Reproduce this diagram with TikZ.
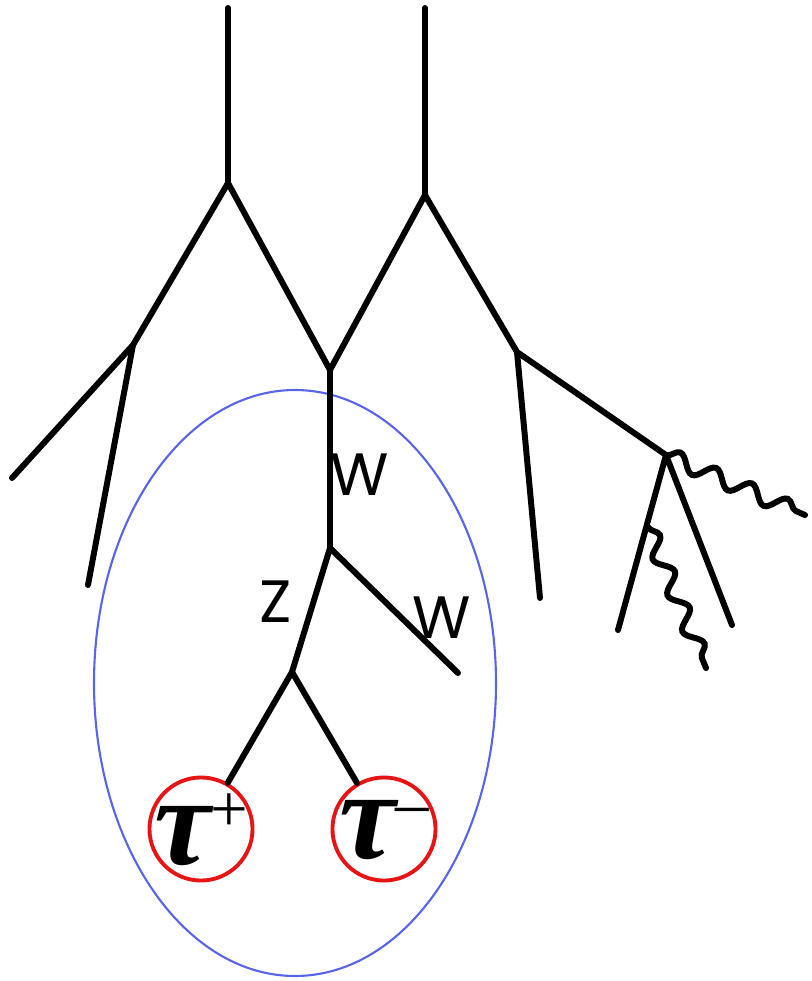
\documentclass[tikz,border=0pt]{standalone}
\usepackage{amsmath,amssymb,fontspec}
\setsansfont{Poppins}
\newfontfamily\taufont{Liberation Serif}
\usetikzlibrary{decorations.pathmorphing,positioning}
\definecolor{ellblue}{RGB}{90,100,235}
\definecolor{taured}{RGB}{230,20,20}
\newcommand{\taulbl}[1]{{\taufont\bfseries\itshape\fontsize{36}{38}\selectfont τ}\raisebox{2.2ex}{\taufont\fontsize{19}{20}\selectfont #1}}

\begin{document}
\begin{tikzpicture}[x=0.01cm,y=-0.01cm,line width=1.7pt,
  leg/.style={draw,line cap=round,line join=round},
  photon/.style={draw,line cap=round,decorate,decoration={snake,amplitude=0.8mm,segment length=3.9mm}},
  tau/.style={circle,draw=taured,line width=1.1pt,minimum size=1.03cm,inner sep=0pt},
  lbl/.style={font=\sffamily\fontsize{17}{18}\selectfont}]
\useasboundingbox (0,0) rectangle (812,981);
% tree vertices
\coordinate (t1) at (228,8);   \coordinate (v1) at (228,183);
\coordinate (t2) at (425,8);   \coordinate (v2) at (425,195);
\coordinate (v3) at (133,345); \coordinate (e1) at (12,478); \coordinate (e2) at (88,585);
\coordinate (v4) at (330,370); \coordinate (v5) at (330,548);
\coordinate (v6) at (292,672); \coordinate (e3) at (458,673);
\coordinate (v7) at (517,352); \coordinate (e4) at (540,598);
\coordinate (v8) at (666,455); \coordinate (e5) at (618,630); \coordinate (e6) at (732,625);
\coordinate (g1) at (805,515); \coordinate (g2s) at (648,527); \coordinate (g2) at (706,668);
% selected decay chain
\draw[ellblue,line width=0.6pt] (295,683) ellipse [x radius=201,y radius=293];
\node[tau,label={[yshift=-0.01cm]center:\taulbl{+}}] (taup) at (201,829) {};
\node[tau,label={[yshift=-0.01cm]center:\taulbl{–}}] (taum) at (384,829) {};
\path[leg] (t1)--(v1) (t2)--(v2);
\path[leg] (e1)--(v3)--(v1)--(v4)--(v2)--(v7)--(v8);
\path[leg] (v3)--(e2) (v7)--(e4) (e5)--(v8)--(e6);
\path[leg] (v4)--(v5)--(e3) (v5)--(v6);
\path[leg] (taup)--(v6)--(taum);
\path[photon] (v8)--(g1);
\path[photon] (g2s)--(g2);
\node[lbl] (w1) at (360,475) {W};
\node[lbl] (w2) at (442,618) {W};
\node[lbl] (z1) at (276,602) {Z};
\end{tikzpicture}
\end{document}
